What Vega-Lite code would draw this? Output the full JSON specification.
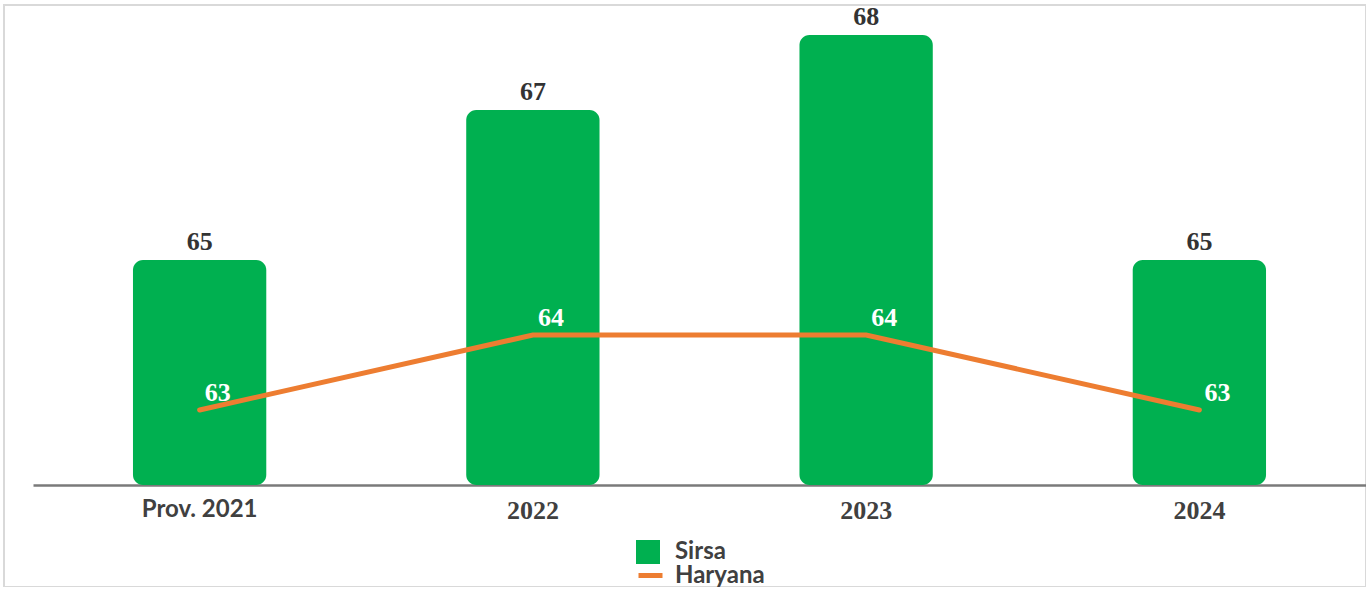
{
  "$schema": "https://vega.github.io/schema/vega-lite/v6.json",
  "width": 1362,
  "height": 582,
  "autosize": "none",
  "padding": {"left": 4, "top": 5, "right": 0, "bottom": 0},
  "background": "white",
  "config": {"view": {"stroke": "#d9d9d9", "strokeWidth": 2}},
  "data": {"values": [
    {"year": "Prov. 2021", "sirsa": 65, "haryana": 63},
    {"year": "2022", "sirsa": 67, "haryana": 64},
    {"year": "2023", "sirsa": 68, "haryana": 64},
    {"year": "2024", "sirsa": 65, "haryana": 63}
  ]},
  "encoding": {
    "x": {
      "field": "year", "type": "nominal", "sort": null,
      "scale": {"range": [29, 1362], "paddingInner": 0, "paddingOuter": 0},
      "axis": {
        "title": null, "labelAngle": 0, "ticks": false,
        "offset": -102,
        "domainColor": "#7a7a7a", "domainWidth": 2.5,
        "labelPadding": 12,
        "labelFont": {"condition": {"test": "datum.value === 'Prov. 2021'", "value": "Lato"}, "value": "Liberation Serif"},
        "labelFontSize": {"condition": {"test": "datum.value === 'Prov. 2021'", "value": 24}, "value": 26},
        "labelFontWeight": "bold", "labelColor": "#404040"
      }
    }
  },
  "layer": [
    {
      "mark": {"type": "bar", "cornerRadius": 10, "width": {"band": 0.4}},
      "encoding": {
        "y": {"field": "sirsa", "type": "quantitative", "scale": {"domain": [60.64, 68.4], "nice": false, "zero": false}, "axis": null},
        "y2": {"datum": 62},
        "fill": {
          "datum": "Sirsa", "type": "nominal",
          "scale": {"range": ["#00B050"]},
          "legend": {
            "orient": "none", "legendX": 632, "legendY": 535, "title": null, "padding": 0,
            "symbolType": "square", "symbolSize": 576, "symbolStrokeWidth": 0,
            "labelFont": "Lato", "labelFontSize": 24, "labelFontWeight": "bold", "labelColor": "#404040", "labelOffset": 15
          }
        }
      }
    },
    {
      "mark": {"type": "text", "dy": -10, "baseline": "alphabetic", "font": "Liberation Serif", "fontSize": 26, "fontWeight": "bold", "color": "#333333"},
      "encoding": {
        "y": {"field": "sirsa", "type": "quantitative", "axis": null},
        "text": {"field": "sirsa", "type": "quantitative"}
      }
    },
    {
      "mark": {"type": "line", "strokeWidth": 5, "strokeCap": "round"},
      "encoding": {
        "y": {"field": "haryana", "type": "quantitative", "axis": null},
        "stroke": {
          "datum": "Haryana", "type": "nominal",
          "scale": {"range": ["#ED7D31"]},
          "legend": {
            "orient": "none", "legendX": 632, "legendY": 556, "title": null, "padding": 0,
            "symbolType": "stroke", "symbolSize": 576, "symbolStrokeWidth": 5,
            "labelFont": "Lato", "labelFontSize": 24, "labelFontWeight": "bold", "labelColor": "#404040", "labelOffset": 10
          }
        }
      }
    },
    {
      "mark": {"type": "text", "dx": 18, "dy": -9, "baseline": "alphabetic", "font": "Liberation Serif", "fontSize": 26, "fontWeight": "bold", "color": "white"},
      "encoding": {
        "y": {"field": "haryana", "type": "quantitative", "axis": null},
        "text": {"field": "haryana", "type": "quantitative"}
      }
    }
  ],
  "resolve": {"legend": {"fill": "independent", "stroke": "independent"}}
}
